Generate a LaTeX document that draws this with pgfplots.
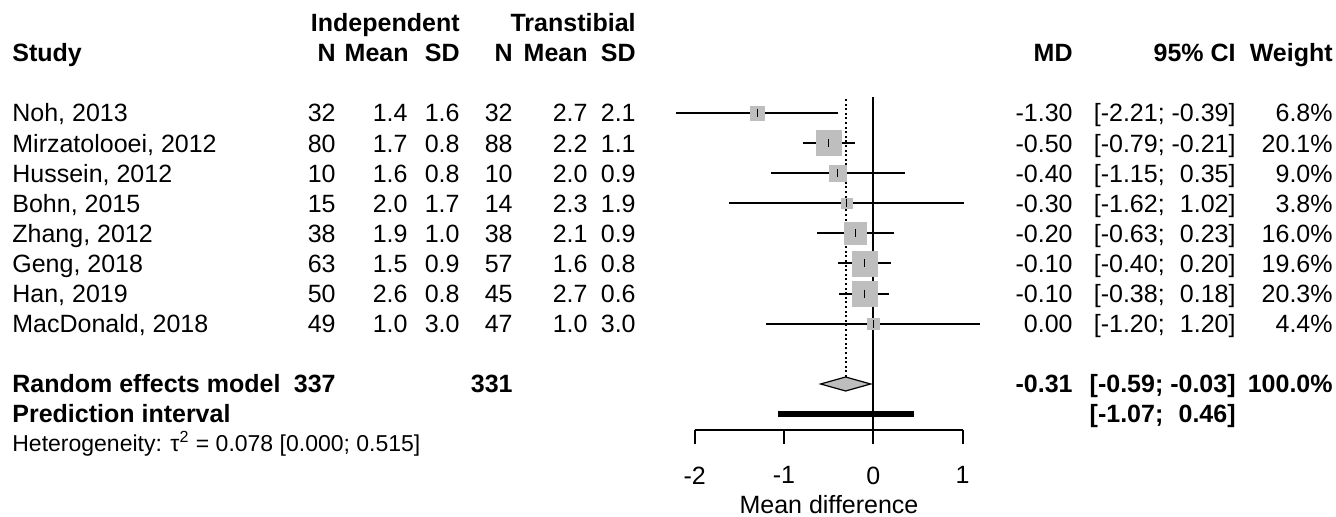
\documentclass[border=0pt]{standalone}
\usepackage{fontspec}
\setmainfont{Liberation Sans}
\usepackage{pgfplots}
\pgfplotsset{compat=1.18}
\usepackage{pgfplotstable}
\definecolor{sqgray}{HTML}{BEBEBE}
\newcommand{\fs}{\fontsize{12.5}{15}\selectfont}
\newcommand{\fss}{\fontsize{11.5}{13.8}\selectfont}

\pgfplotstableread{
md    y      lo     hi    w
-1.30 404.0 -2.21 -0.39 6.8
-0.50 373.9 -0.79 -0.21 20.1
-0.40 343.8 -1.15 0.35 9.0
-0.30 313.7 -1.62 1.02 3.8
-0.20 283.6 -0.63 0.23 16.0
-0.10 253.5 -0.40 0.20 19.6
-0.10 223.4 -0.38 0.18 20.3
0.00  193.3 -1.20 1.20 4.4
}\studies

\begin{document}
\begin{tikzpicture}
\begin{axis}[
  x=44.65pt, y=0.5pt,
  xmin=-2, xmax=1, ymin=87, ymax=420,
  axis x line*=bottom, axis y line=none,
  xtick={-2,-1,0,1}, xticklabels={-2,-1,0,1},
  tick align=outside, major tick length=7pt,
  x axis line style={line width=1pt, black},
  xtick style={line width=1pt, black},
  xticklabel style={font=\fs, anchor=north, yshift=-7.8pt},
  clip=false,
]
\coordinate (O) at (axis cs:0,0);
% reference lines
\addplot[black, line width=1pt] coordinates {(0,87) (0,420)};
\addplot[black, line width=0.9pt, dash pattern=on 1pt off 1.3pt] coordinates {(-0.31,140) (-0.31,419)};
% squares (side proportional to sqrt of weight)
\addplot[sqgray, only marks, mark=square*, scatter,
  mark options={draw=sqgray, fill=sqgray, line width=0.2pt},
  scatter/use mapped color={draw=sqgray, fill=sqgray},
  visualization depends on={1.425*sqrt(\thisrow{w})-0.1 \as \ms},
  scatter/@pre marker code/.append style={/tikz/mark size=\ms}]
  table[x=md, y=y] {\studies};
% confidence intervals and estimate ticks
\addplot[black, only marks, mark=|, mark size=2pt, mark options={line width=0.7pt},
  error bars/.cd, x dir=both, x explicit, error mark=none,
  error bar style={line width=1pt, black}]
  table[x=md, y=y,
    x error plus expr=\thisrow{hi}-\thisrow{md},
    x error minus expr=\thisrow{md}-\thisrow{lo}] {\studies};
% random effects diamond
\addplot[draw=black, fill=sqgray, line width=0.6pt] coordinates {(-0.59,133) (-0.31,140) (-0.03,133) (-0.31,126)} -- cycle;
% prediction interval
\addplot[black, line width=3pt] coordinates {(-1.07,103) (0.46,103)};
\end{axis}

\begin{scope}[shift={(O)}, xshift=-436.65pt, x=0.5pt, y=0.5pt,
  every node/.style={inner sep=0pt, font=\fs}]
\coordinate (BL) at (0,0);
\coordinate (TR) at (1336,517);
% headers
\node[anchor=base east, font=\fs\bfseries] at (460,485) {Independent};
\node[anchor=base east, font=\fs\bfseries] at (636,485) {Transtibial};
\node[anchor=base west, font=\fs\bfseries] at (12,455) {Study};
\node[anchor=base east, font=\fs\bfseries] at (336,455) {N};
\node[anchor=base east, font=\fs\bfseries] at (409,455) {Mean};
\node[anchor=base east, font=\fs\bfseries] at (460,455) {SD};
\node[anchor=base east, font=\fs\bfseries] at (513,455) {N};
\node[anchor=base east, font=\fs\bfseries] at (588,455) {Mean};
\node[anchor=base east, font=\fs\bfseries] at (636,455) {SD};
\node[anchor=base east, font=\fs\bfseries] at (1073,455) {MD};
\node[anchor=base east, font=\fs\bfseries] at (1236,455) {95\% CI};
\node[anchor=base east, font=\fs\bfseries] at (1333,455) {Weight};
% study rows
\foreach \yy/\st/\na/\ma/\sa/\nb/\mb/\sb/\md/\ci/\w in {
  404.0/{Noh, 2013}/32/1.4/1.6/32/2.7/2.1/-1.30/{[-2.21; -0.39]}/6.8,
  373.9/{Mirzatolooei, 2012}/80/1.7/0.8/88/2.2/1.1/-0.50/{[-0.79; -0.21]}/20.1,
  343.8/{Hussein, 2012}/10/1.6/0.8/10/2.0/0.9/-0.40/{[-1.15; \hphantom{-}0.35]}/9.0,
  313.7/{Bohn, 2015}/15/2.0/1.7/14/2.3/1.9/-0.30/{[-1.62; \hphantom{-}1.02]}/3.8,
  283.6/{Zhang, 2012}/38/1.9/1.0/38/2.1/0.9/-0.20/{[-0.63; \hphantom{-}0.23]}/16.0,
  253.5/{Geng, 2018}/63/1.5/0.9/57/1.6/0.8/-0.10/{[-0.40; \hphantom{-}0.20]}/19.6,
  223.4/{Han, 2019}/50/2.6/0.8/45/2.7/0.6/-0.10/{[-0.38; \hphantom{-}0.18]}/20.3,
  193.3/{MacDonald, 2018}/49/1.0/3.0/47/1.0/3.0/0.00/{[-1.20; \hphantom{-}1.20]}/4.4}{
  \node[anchor=base west] at (12,\yy-9) {\st};
  \node[anchor=base east] at (336,\yy-9) {\na};
  \node[anchor=base east] at (408,\yy-9) {\ma};
  \node[anchor=base east] at (460,\yy-9) {\sa};
  \node[anchor=base east] at (513,\yy-9) {\nb};
  \node[anchor=base east] at (588,\yy-9) {\mb};
  \node[anchor=base east] at (636,\yy-9) {\sb};
  \node[anchor=base east] at (1073,\yy-9) {\md};
  \node[anchor=base east] at (1236,\yy-9) {\ci};
  \node[anchor=base east] at (1333,\yy-9) {\w\%};
}
% summary rows
\node[anchor=base west, font=\fs\bfseries] at (12,124) {Random effects model};
\node[anchor=base east, font=\fs\bfseries] at (336,124) {337};
\node[anchor=base east, font=\fs\bfseries] at (513,124) {331};
\node[anchor=base east, font=\fs\bfseries] at (1073,124) {-0.31};
\node[anchor=base east, font=\fs\bfseries] at (1236,124) {[-0.59; -0.03]};
\node[anchor=base east, font=\fs\bfseries] at (1333,124) {100.0\%};
\node[anchor=base west, font=\fs\bfseries] at (12,94) {Prediction interval};
\node[anchor=base east, font=\fs\bfseries] at (1236,94) {[-1.07; \hphantom{-}0.46]};
\node[anchor=base west, font=\fss] at (12,65.5) {Heterogeneity: τ\textsuperscript{2} = 0.078 [0.000; 0.515]};
% x label
\node[anchor=base] at (829,3) {Mean difference};
\end{scope}
\pgfresetboundingbox
\path (BL) rectangle (TR);
\end{tikzpicture}
\end{document}
